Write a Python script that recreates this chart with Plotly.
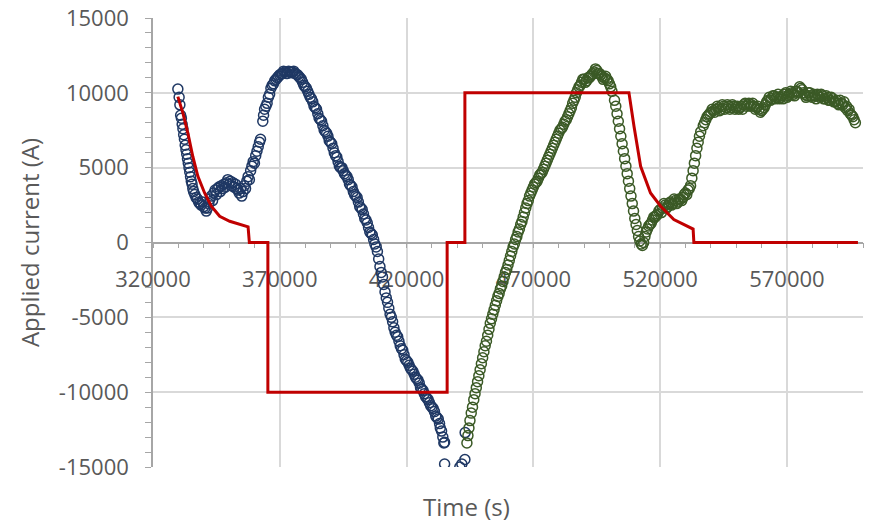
import plotly.graph_objects as go

# ---------------- data ----------------
blue_t = [329800, 330300, 330600, 330900, 331200, 331500, 331800, 332100, 332400, 332700,
          333000, 333300, 333600, 333900, 334200, 334500, 334800, 335100, 335400, 335700,
          336000, 336500, 337000, 337500, 338000, 338500, 339000, 339500, 340000, 340500,
          341000, 341500, 342000, 342500, 343000, 343500, 344000, 344500, 345000, 345500,
          346000, 346500, 347000, 347500, 348000, 348500, 349000, 349500, 350000, 350500,
          351000, 351500, 352000, 352500, 353000, 353500, 354000, 354500, 355000, 355500,
          356000, 356500, 357000, 357500, 358000, 358500, 359000, 359500, 360000, 360500,
          361000, 361500, 362000, 362400, 363300, 363600, 364000, 364500, 365000, 365500,
          366000, 366500, 367000, 367500, 368000, 368500, 369000, 369500, 370000, 371000,
          372000, 373000, 374000, 375000, 376000, 377000, 378000, 379000, 380000, 381000,
          382000, 383000, 384000, 385000, 386000, 387000, 388000, 389000, 390000, 391000,
          392000, 393000, 394000, 395000, 396000, 397000, 398000, 399000, 400000, 401000,
          402000, 403000, 404000, 405000, 406000, 407000, 408000, 409000, 410000, 411000,
          412000, 413000, 414000, 415000, 416000, 417000, 418000, 419000, 420000, 421000,
          422000, 423000, 424000, 425000, 426000, 427000, 428000, 429000, 430000, 431000,
          432000, 433000, 433800, 434300, 434700, 435000, 435000, 441000, 441800, 443000,
          443100,
          370500, 371500, 372500, 373500, 374500, 375500, 376500, 377500, 378500, 379500,
          380500, 381500, 382500, 383500, 384500, 385500, 386500, 387500, 388500, 389500,
          390500, 391500, 392500, 393500, 394500, 395500, 396500, 397500, 398500, 399500,
          400500, 401500, 402500, 403500, 404500, 405500, 406500, 407500, 408500, 409500,
          410500, 411500, 412500, 413500, 414500, 415500, 416500, 417500, 418500, 419500,
          420500, 421500, 422500, 423500, 424500, 425500, 426500, 427500, 428500, 429500,
          430500, 431500, 432500, 433300]
blue_i = [10250, 9700, 9200, 8500, 8300, 7900, 7600, 7200, 6900, 6500,
          6200, 5900, 5600, 5300, 5000, 4700, 4400, 4100, 3900, 3600,
          3400, 3200, 3000, 2900, 2700, 2600, 2500, 2700, 2400, 2300,
          2100, 2300, 2600, 2900, 3100, 2800, 3300, 3500, 3200, 3600,
          3700, 3400, 3800, 3600, 3900, 3700, 4000, 4200, 3900, 4100,
          3800, 4000, 3700, 3900, 3600, 3500, 3300, 3600, 3100, 3400,
          3800, 3600, 4100, 4400, 4200, 4800, 5100, 5400, 5300, 5800,
          6100, 6400, 6700, 6900, 8100, 8500, 8900, 9100, 9300, 9700,
          9900, 10300, 10500, 10600, 10800, 10900, 11000, 11100, 11200, 11300,
          11400, 11300, 11400, 11400, 11300, 11200, 11000, 10700, 10400, 10100,
          9700, 9400, 9000, 8600, 8200, 7800, 7400, 7100, 6700, 6300,
          5800, 5400, 5000, 4800, 4500, 4200, 3800, 3400, 3100, 2700,
          2300, 1900, 1500, 1000, 600, 200, -300, -1100, -2000, -2800,
          -3700, -4400, -5000, -5700, -6200, -6600, -7100, -7500, -7900, -8200,
          -8500, -8800, -9100, -9400, -9800, -10100, -10400, -10700, -11000, -11300,
          -11700, -12100, -12600, -13000, -13400, -13350, -14800, -15000, -14800, -14500,
          -12700,
          11250, 11450, 11300, 11450, 11350, 11450, 11250, 11100, 10900, 10500,
          10300, 9900, 9600, 9100, 8900, 8300, 8100, 7500, 7300, 6800,
          6600, 6000, 5700, 5100, 5000, 4600, 4400, 3900, 3700, 3200,
          3000, 2400, 2200, 1600, 1300, 700, 500, -100, -600, -1600,
          -2300, -3300, -4000, -4800, -5300, -6000, -6300, -6900, -7200, -7800,
          -8000, -8400, -8600, -9000, -9200, -9700, -9900, -10300, -10500, -10900,
          -11100, -11600, -11800, -12400]

green_t = [443800, 444200, 444600, 445000, 445500, 446000, 446500, 447000, 447500, 448000,
           448500, 449000, 449500, 450000, 450500, 451000, 451500, 452000, 452500, 453000,
           453500, 454000, 454500, 455000, 455500, 456000, 456500, 457000, 457500, 458000,
           458500, 459000, 459500, 460000, 460500, 461000, 461500, 462000, 462500, 463000,
           463500, 464000, 464500, 465000, 465500, 466000, 466500, 467000, 467500, 468000,
           468500, 469000, 469500, 470000, 471000, 472000, 473000, 474000, 475000, 476000,
           477000, 478000, 479000, 480000, 481000, 482000, 483000, 484000, 485000, 486000,
           487000, 488000, 489000, 490000, 491000, 492000, 493000, 494000, 495000, 496000,
           497000, 498000, 499000, 500000, 501000, 502000, 502500, 503000, 503500, 504000,
           504500, 505000, 505500, 506000, 506500, 507000, 507500, 508000, 508500, 509000,
           509500, 510000, 510500, 511000, 511500, 512000, 512500, 513000, 513500, 514000,
           514500, 515000, 516000, 517000, 518000, 519000, 520000, 521000, 522000, 523000,
           524000, 525000, 526000, 527000, 528000, 529000, 530000, 531000, 532000, 532500,
           533000, 533500, 534000, 534500, 535000, 535500, 536000, 537000, 538000, 539000,
           540000, 541000, 542000, 543000, 544000, 545000, 546000, 547000, 548000, 549000,
           550000, 551000, 552000, 553000, 554000, 555000, 556000, 557000, 558000, 559000,
           560000, 561000, 562000, 563000, 564000, 565000, 566000, 567000, 568000, 569000,
           570000, 571000, 572000, 573000, 574000, 575000, 576000, 577000, 578000, 579000,
           580000, 581000, 582000, 583000, 584000, 585000, 586000, 587000, 588000, 589000,
           590000, 591000, 592000, 593000, 594000, 595000, 596000, 597000,
           470500, 471500, 472500, 473500, 474500, 475500, 476500, 477500, 478500, 479500,
           480500, 481500, 482500, 483500, 484500, 485500, 486500, 487500, 488500, 489500,
           490500, 491500, 492500, 493500, 494500, 495500, 496500, 497500, 498500, 499500,
           500500,
           515500, 516500, 517500, 518500, 519500, 520500, 521500, 522500, 523500, 524500,
           525500, 526500, 527500, 528500, 529500, 530500, 531500,
           537500, 538500, 539500, 540500, 541500, 542500, 543500, 544500, 545500, 546500,
           547500, 548500, 549500, 550500, 551500, 552500, 553500, 554500, 555500, 556500,
           557500, 558500, 559500, 560500, 561500, 562500, 563500, 564500, 565500, 566500,
           567500, 568500, 569500, 570500, 571500, 572500, 573500, 574500, 575500, 576500,
           577500, 578500, 579500, 580500, 581500, 582500, 583500, 584500, 585500, 586500,
           587500, 588500, 589500, 590500, 591500, 592500, 593500, 594500, 595500, 596500]
green_i = [-13400, -12900, -12400, -11900, -11400, -11000, -10500, -10100, -9700, -9300,
           -8900, -8500, -8100, -7700, -7300, -6900, -6600, -6200, -5800, -5400,
           -5100, -4800, -4500, -4200, -3900, -3600, -3400, -3100, -2900, -2600,
           -2300, -2000, -1800, -1500, -1200, -900, -600, -300, -100, 200,
           400, 700, 900, 1200, 1400, 1700, 2000, 2300, 2600, 2800,
           3100, 3300, 3500, 3700, 4000, 4300, 4600, 4900, 5300, 5700,
           6100, 6500, 6900, 7300, 7600, 7900, 8200, 8600, 9000, 9500,
           10000, 10400, 10700, 10900, 10800, 11000, 11200, 11400, 11500, 11300,
           11100, 11000, 10900, 10600, 10100, 9500, 9100, 8600, 8100, 7600,
           7100, 6600, 6100, 5600, 5100, 4600, 4100, 3600, 3100, 2600,
           2100, 1600, 1200, 800, 400, 100, -100, -200, 0, 400,
           700, 900, 1200, 1500, 1700, 1900, 2200, 2300, 2500, 2400,
           2700, 2600, 2800, 2700, 2900, 3000, 3300, 3500, 3800, 4300,
           4800, 5300, 5800, 6300, 6700, 7100, 7400, 7800, 8200, 8500,
           8700, 8800, 8900, 9000, 8900, 9100, 9000, 9100, 9000, 9100,
           9000, 8900, 9100, 9200, 9100, 9300, 9200, 9100, 9000, 8900,
           8800, 9000, 9400, 9700, 9600, 9800, 9700, 9600, 9800, 9900,
           9700, 9900, 10000, 9800, 10100, 10400, 10200, 9900, 9800, 10000,
           9700, 9800, 9900, 9700, 9800, 9600, 9700, 9500, 9600, 9400,
           9300, 9500, 9200, 9000, 8800, 8600, 8400, 8000,
           3900, 4100, 4500, 4700, 5100, 5500, 5900, 6300, 6700, 7100,
           7500, 7700, 8100, 8400, 8800, 9300, 9700, 10200, 10500, 10900,
           10700, 11000, 11100, 11300, 11600, 11300, 11200, 10900, 11100, 10800,
           10400,
           1100, 1300, 1700, 1800, 2100, 2000, 2600, 2300, 2600, 2500,
           2900, 2600, 2900, 2800, 3200, 3200, 3600,
           8000, 8400, 8600, 8900, 8700, 9100, 8800, 9200, 8900, 9200,
           8900, 9200, 8900, 9100, 9000, 8900, 9300, 9200, 9100, 9300,
           8900, 9100, 8700, 8900, 9200, 9500, 9500, 9800, 9600, 9900,
           9700, 9600, 10000, 9800, 10100, 9900, 10100, 10000, 10300, 10000,
           9700, 10000, 9800, 9900, 9600, 9800, 9900, 9600, 9800, 9500,
           9700, 9400, 9500, 9200, 9300, 9400, 9100, 8900, 8500, 8200]

red_t = [329800, 331800, 333750, 335700, 337700, 340350, 343000, 346300, 350250, 354200,
         357500, 358000, 365300, 365300, 436000, 436000, 443000, 443000, 507700, 509700,
         512300, 516200, 520200, 525400, 530700, 533000, 533300, 598000]
red_i = [9750, 8650, 7310, 5750, 4420, 3310, 2420, 1750, 1420, 1200,
         1050, 0, 0, -10000, -10000, 0, 0, 10000, 10000, 7750,
         5090, 3310, 2420, 1530, 1090, 900, 0, 0]

x_tickvals = [320000, 370000, 420000, 470000, 520000, 570000]
y_tickvals = [-15000, -10000, -5000, 0, 5000, 10000, 15000]
y_ticktext = ["-15000", "-10000", "-5000", "0", "5000", "10000", "15000"]

# ---------------- figure ----------------
FONT = "Open Sans"
GRAY_TXT = "#595959"
GRID = "#D9D9D9"
AXIS = "#A6A6A6"

fig = go.Figure()
fig.add_trace(go.Scatter(
    x=blue_t, y=blue_i, mode="markers", name="measured 1",
    marker=dict(symbol="circle-open", size=10, color="#1F3864", line=dict(width=1.5)),
    showlegend=False))
fig.add_trace(go.Scatter(
    x=green_t, y=green_i, mode="markers", name="measured 2",
    marker=dict(symbol="circle-open", size=10, color="#3B5A26", line=dict(width=1.5)),
    showlegend=False))
fig.add_trace(go.Scatter(
    x=red_t, y=red_i, mode="lines", name="applied",
    line=dict(color="#C00000", width=3), showlegend=False))

fig.update_layout(
    width=869, height=522,
    margin=dict(l=153, r=6, t=18, b=55, autoexpand=False),
    paper_bgcolor="white", plot_bgcolor="white",
    font=dict(family=FONT, color=GRAY_TXT, size=22),
    xaxis=dict(
        range=[320000, 600000], tickvals=x_tickvals,
        ticktext=[str(v) for v in x_tickvals],
        showgrid=True, gridcolor=GRID, gridwidth=2,
        anchor="free", position=0.5, automargin=False,
        showline=True, linecolor=AXIS, linewidth=1.5, layer="below traces",
        ticks="outside", ticklen=5, tickcolor=AXIS, tickwidth=1.2,
        minor=dict(dtick=10000, tick0=320000, ticks="outside", ticklen=5,
                   tickcolor=AXIS, tickwidth=1.2, showgrid=False),
        tickfont=dict(size=22, color=GRAY_TXT, family=FONT),
        ticklabelstandoff=12,
        zeroline=False,
    ),
    yaxis=dict(
        range=[-15000, 15000], tickvals=y_tickvals, ticktext=y_ticktext,
        showgrid=True, gridcolor=GRID, gridwidth=2, automargin=False,
        showline=True, linecolor=AXIS, linewidth=1.5, layer="below traces",
        ticks="outside", ticklen=6, tickcolor=AXIS, tickwidth=1.2,
        minor=dict(dtick=1000, tick0=0, ticks="outside", ticklen=6,
                   tickcolor=AXIS, tickwidth=1.2, showgrid=False),
        tickfont=dict(size=22, color=GRAY_TXT, family=FONT),
        ticklabelstandoff=12,
        zeroline=False,
        title=dict(text="Applied current (A)", font=dict(size=24, color=GRAY_TXT, family=FONT),
                   standoff=12),
    ),
    yaxis2=dict(
        range=[0, 40], dtick=1, overlaying="y", side="right", anchor="x",
        showline=True, linecolor=AXIS, linewidth=1.5, automargin=False,
        ticks="outside", ticklen=5, tickcolor=AXIS, tickwidth=1.2,
        showticklabels=False, showgrid=False, zeroline=False,
    ),
    annotations=[dict(
        text="Time (s)", xref="paper", yref="paper", x=0.442, y=-0.089,
        xanchor="center", yanchor="middle", showarrow=False,
        font=dict(size=24, color=GRAY_TXT, family=FONT))],
)

fig.write_html("out.html",
               config={"displayModeBar": False},
               post_script="document.body.style.margin='0';document.body.style.overflow='hidden';")
